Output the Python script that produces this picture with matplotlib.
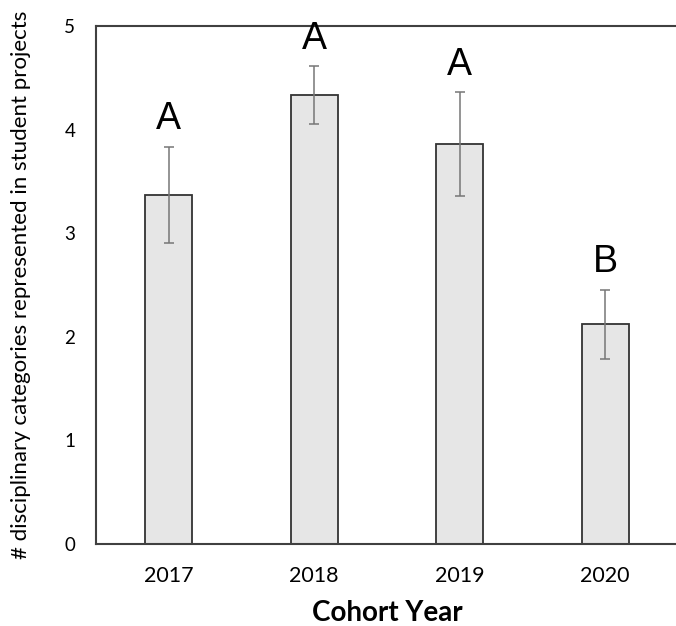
import matplotlib.pyplot as plt
import numpy as np

# cohort means and error bars
years = ['2017', '2018', '2019', '2020']
means = [3.37, 4.33, 3.86, 2.12]
errors = [0.46, 0.28, 0.50, 0.33]
groups = ['A', 'A', 'A', 'B']
yticks = [0, 1, 2, 3, 4, 5]

fig = plt.figure(figsize=(6.76, 6.26), dpi=100)
ax = fig.add_axes([96 / 676, 1 - 544 / 626, (678 - 96) / 676, (544 - 26) / 626])

x = np.arange(len(years))
ax.bar(x, means, width=0.32, color='#e6e6e6', edgecolor='#333333', linewidth=1.3, zorder=2)
ax.errorbar(x, means, yerr=errors, fmt='none', ecolor='#777777', elinewidth=1.1,
            capsize=3.5, capthick=1.1, zorder=3)

# significance letters above each error bar
for xi, m, e, g in zip(x, means, errors, groups):
    ax.annotate(g, (xi, m + e), xytext=(0, 7), textcoords='offset points',
                ha='center', va='bottom', fontsize=27, family='Liberation Sans')

ax.set_xlim(-0.5, 3.5)
ax.set_ylim(0, 5)
ax.set_xticks(x)
ax.set_xticklabels(years, fontsize=15.5, family='Lato')
ax.set_yticks(yticks)
ax.set_yticklabels([str(t) for t in yticks], fontsize=13.5, family='Lato')
ax.tick_params(axis='both', length=0)
ax.tick_params(axis='x', pad=16)
ax.tick_params(axis='y', pad=15)

for side in ['left', 'top', 'bottom']:
    ax.spines[side].set_color('#404040')
    ax.spines[side].set_linewidth(1.5)
ax.spines['right'].set_visible(False)

ax.set_xlabel('Cohort Year', fontsize=20, fontweight='bold', family='Lato', labelpad=10)
ax.set_ylabel('# disciplinary categories represented in student projects',
              fontsize=16, family='Lato', labelpad=24)

fig.savefig('out.png', dpi=100)
